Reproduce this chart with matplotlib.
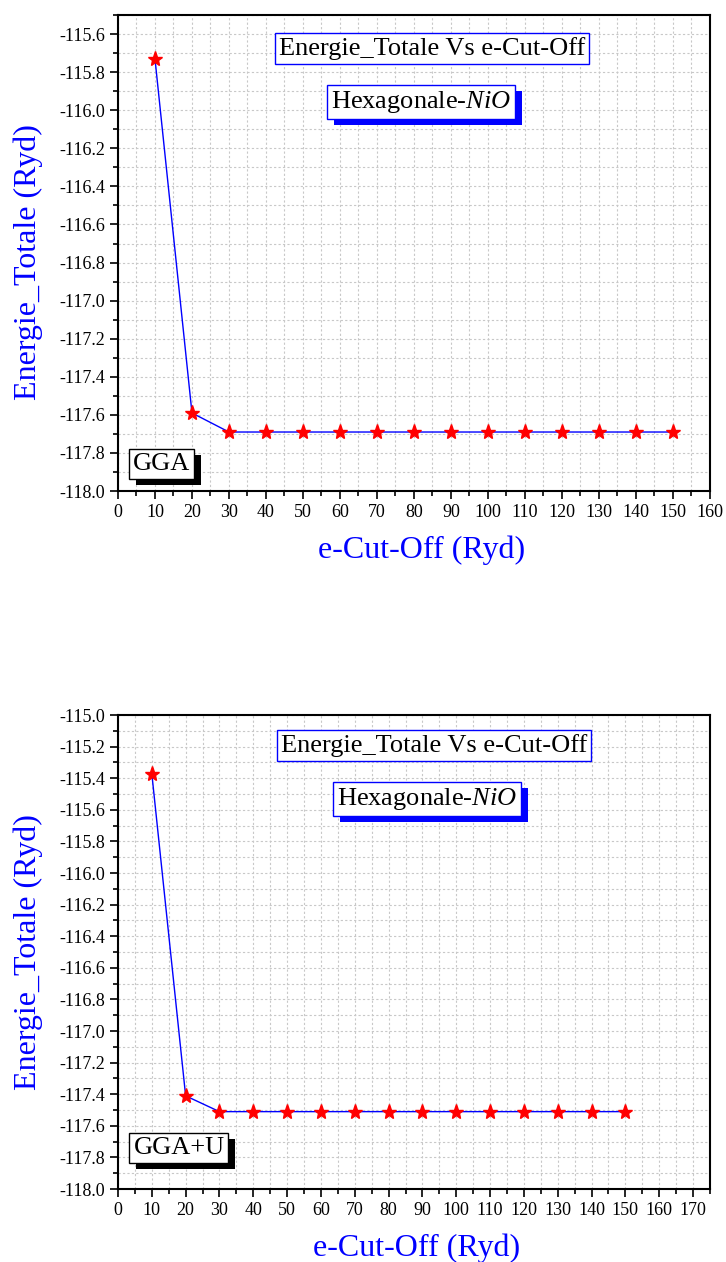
import matplotlib
matplotlib.use("Agg")
import matplotlib.pyplot as plt
from matplotlib.ticker import MultipleLocator, FormatStrFormatter
from matplotlib.patches import Rectangle

plt.rcParams['font.family'] = ['Liberation Serif', 'DejaVu Serif']
plt.rcParams['mathtext.fontset'] = 'custom'
plt.rcParams['mathtext.rm'] = 'Liberation Serif'
plt.rcParams['mathtext.it'] = 'Liberation Serif:italic'

# Cut-off energies (Ryd) and total energies (Ryd)
ecut = [10, 20, 30, 40, 50, 60, 70, 80, 90, 100, 110, 120, 130, 140, 150]
energy_gga = [-115.73, -117.59, -117.69, -117.69, -117.69, -117.69, -117.69,
              -117.69, -117.69, -117.69, -117.69, -117.69, -117.69, -117.69, -117.69]
energy_ggau = [-115.37, -117.41, -117.51, -117.51, -117.51, -117.51, -117.51,
               -117.51, -117.51, -117.51, -117.51, -117.51, -117.51, -117.51, -117.51]

title_text = "Energie_Totale Vs e-Cut-Off"
phase_text = r"Hexagonale-$\mathit{NiO}$"
xlabel_text = "e-Cut-Off (Ryd)"
ylabel_text = "Energie_Totale (Ryd)"

fig = plt.figure(figsize=(7.26, 12.62), dpi=100)
shadowed = []  # (text artist, shadow colour)


def boxed(ax, x, y, s, edge, shadow=None, size=19):
    t = ax.text(x, y, s, transform=ax.transAxes, ha='center', va='center',
                fontsize=size, color='black', zorder=6,
                bbox=dict(boxstyle='square,pad=0.15', fc='white', ec=edge, lw=1))
    if shadow is not None:
        shadowed.append((t, shadow))
    return t


def panel(rect, energies, ylim, xlim, label, pos, ylab_y=0.5, xlab_x=0.5):
    ax = fig.add_axes(rect)
    ax.plot(ecut, energies, color='blue', lw=1.0, zorder=3)
    ax.plot(ecut, energies, ls='none', marker='*', ms=11, color='red',
            markeredgecolor='red', zorder=4)
    ax.set_xlim(*xlim)
    ax.set_ylim(*ylim)
    ax.xaxis.set_major_locator(MultipleLocator(10))
    ax.xaxis.set_minor_locator(MultipleLocator(5))
    ax.yaxis.set_major_locator(MultipleLocator(0.2))
    ax.yaxis.set_minor_locator(MultipleLocator(0.1))
    ax.yaxis.set_major_formatter(FormatStrFormatter('%.1f'))
    ax.tick_params(which='both', direction='out', top=False, right=False,
                   labelsize=13, width=1.2)
    ax.tick_params(which='major', length=6)
    ax.tick_params(which='minor', length=3.5)
    for sp in ax.spines.values():
        sp.set_linewidth(1.5)
    ax.grid(True, which='both', ls=(0, (2, 2)), color='#c8c8c8', lw=0.8)
    ax.set_axisbelow(True)
    ax.set_xlabel(xlabel_text, color='blue', fontsize=23)
    ax.set_ylabel(ylabel_text, color='blue', fontsize=23)
    ax.yaxis.set_label_coords(-0.126, ylab_y)
    ax.xaxis.set_label_coords(xlab_x, -0.093)
    boxed(ax, pos['title'][0], pos['title'][1], title_text, 'blue')
    boxed(ax, pos['phase'][0], pos['phase'][1], phase_text, 'blue', shadow='blue')
    boxed(ax, pos['tag'][0], pos['tag'][1], label, 'black', shadow='black')
    return ax


panel([0.1625, 0.6109, 0.8154, 0.3772], energy_gga, (-118.0, -115.5), (0, 160),
      "GGA", {'title': (0.5305, 0.930), 'phase': (0.5125, 0.818), 'tag': (0.073, 0.057)},
      ylab_y=0.482, xlab_x=0.512)
panel([0.1625, 0.0578, 0.8154, 0.3756], energy_ggau, (-118.0, -115.0), (0, 175),
      "GGA+U", {'title': (0.534, 0.935), 'phase': (0.522, 0.823), 'tag': (0.103, 0.087)},
      ylab_y=0.5, xlab_x=0.505)

# Drop shadows behind the framed labels
fig.canvas.draw()
renderer = fig.canvas.get_renderer()
for t, col in shadowed:
    bb = t.get_bbox_patch().get_window_extent(renderer)
    ax = t.axes
    rect = Rectangle((bb.x0 + 7, bb.y0 - 6), bb.width, bb.height, transform=None,
                     fc=col, ec=col, lw=0, zorder=5)
    ax.add_artist(rect)

fig.savefig("out.png", dpi=100)
